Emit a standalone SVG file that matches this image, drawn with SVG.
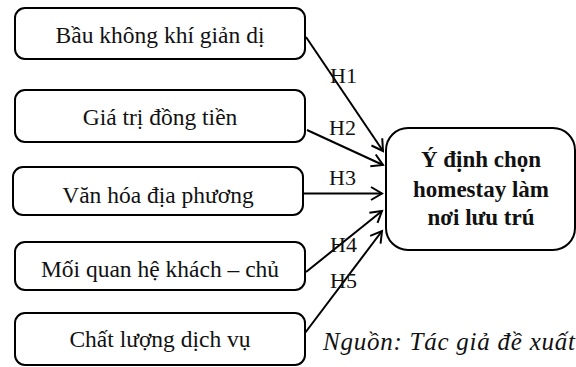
<svg xmlns="http://www.w3.org/2000/svg" width="576" height="367" viewBox="0 0 576 367">
<style>
.box{fill:#fff;stroke:#000;stroke-width:2}
.t{font-family:"Liberation Serif","Times New Roman",serif;font-size:23.5px;fill:#111;text-anchor:middle}
.tb{font-family:"Liberation Serif","Times New Roman",serif;font-size:23px;font-weight:bold;fill:#111;text-anchor:middle}
.lab{font-family:"Liberation Serif","Times New Roman",serif;font-size:22px;fill:#111}
.src{font-family:"Liberation Serif","Times New Roman",serif;font-size:25px;font-style:italic;fill:#111}
.c{stroke:#000;stroke-width:2;fill:none;marker-end:url(#ah)}
</style>
<defs>
<marker id="ah" markerUnits="userSpaceOnUse" markerWidth="16" markerHeight="16" refX="13" refY="8" orient="auto" viewBox="0 0 16 16">
<path d="M2,1.5 L13,8 L2,14.5" fill="none" stroke="#000" stroke-width="2"/>
</marker>
</defs>
<rect width="576" height="367" fill="#fff"/>
<g id="n1"><rect class="box" x="15" y="8" width="290" height="51" rx="10"/><text class="t" x="160" y="43">Bầu không khí giản dị</text></g>
<g id="n2"><rect class="box" x="15" y="90" width="290" height="52" rx="10"/><text class="t" x="160" y="125">Giá trị đồng tiền</text></g>
<g id="n3"><rect class="box" x="13" y="167" width="290" height="48" rx="10"/><text class="t" x="158" y="203">Văn hóa địa phương</text></g>
<g id="n4"><rect class="box" x="15" y="242" width="290" height="48" rx="10"/><text class="t" x="160" y="277">Mối quan hệ khách – chủ</text></g>
<g id="n5"><rect class="box" x="15" y="313" width="290" height="52" rx="10"/><text class="t" x="160" y="347">Chất lượng dịch vụ</text></g>
<g id="target"><rect class="box" x="386" y="128" width="189" height="122" rx="22"/>
<text class="tb" x="481" y="167">Ý định chọn</text>
<text class="tb" x="481" y="197">homestay làm</text>
<text class="tb" x="481" y="225">nơi lưu trú</text></g>
<g id="connectors">
<line class="c" x1="306" y1="37" x2="383" y2="151"/>
<line class="c" x1="307" y1="130" x2="383" y2="165"/>
<line class="c" x1="304" y1="193.5" x2="382" y2="193.5"/>
<line class="c" x1="306" y1="272" x2="382" y2="211"/>
<line class="c" x1="305" y1="333" x2="382" y2="231"/>
</g>
<g id="labels">
<text class="lab" x="330" y="83">H1</text>
<text class="lab" x="329" y="135">H2</text>
<text class="lab" x="329" y="185">H3</text>
<text class="lab" x="330" y="252">H4</text>
<text class="lab" x="330" y="288">H5</text>
</g>
<text class="src" x="323" y="350" textLength="252" lengthAdjust="spacing">Nguồn: Tác giả đề xuất</text>
</svg>
